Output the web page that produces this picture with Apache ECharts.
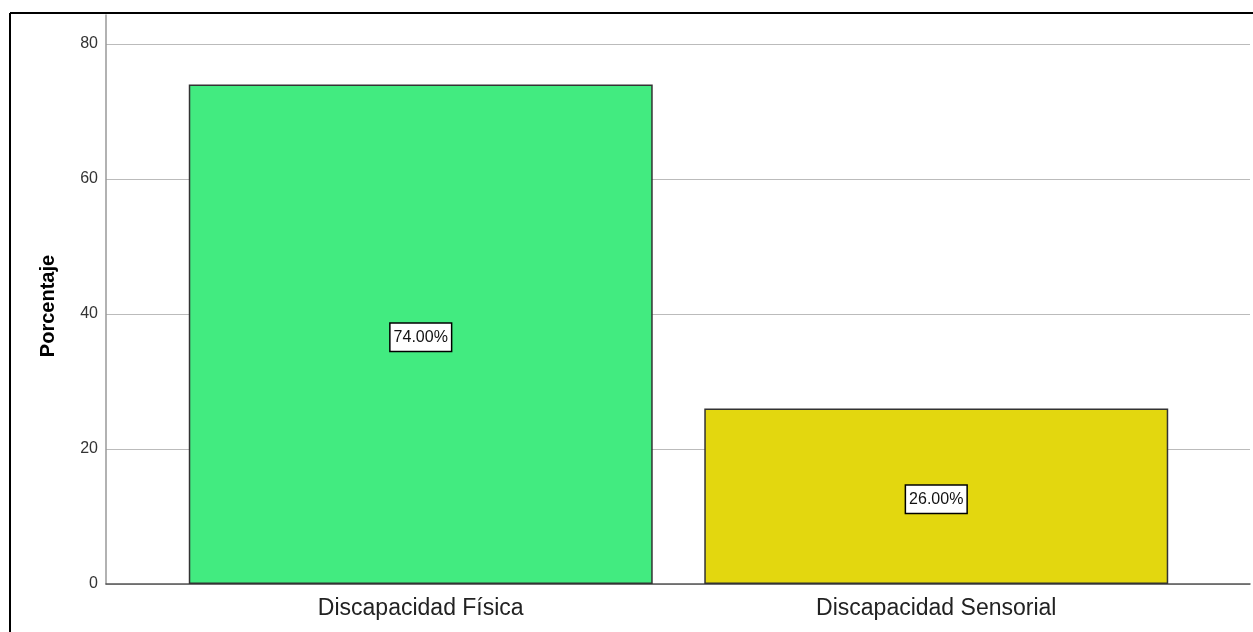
<!DOCTYPE html>
<html><head><meta charset="utf-8">
<script src="https://cdn.jsdelivr.net/npm/echarts@6/dist/echarts.min.js"></script>
<style>html,body{margin:0;padding:0;background:#fff}#c{width:1253px;height:632px}</style>
</head><body><div id="c"></div>
<script>
const categories = ['Discapacidad Física', 'Discapacidad Sensorial'];
const values = [74, 26];
const labels = ['74.00%', '26.00%'];
const colors = ['#42EB80', '#E3D70F'];
const yTicks = [0, 20, 40, 60, 80];
const yTitle = 'Porcentaje';

const chart = echarts.init(document.getElementById('c'), null, {renderer: 'canvas'});
const font = 'Liberation Sans, Arial, sans-serif';
chart.setOption({
  animation: false,
  backgroundColor: '#fff',
  grid: [
    {left: 106, right: 3, top: 44, bottom: 48},
    {left: 163, right: 59, top: 15, bottom: 48},
    {left: 106, right: 3, top: 15, bottom: 48}
  ],
  xAxis: [
    {gridIndex: 0, type: 'value', min: 0, max: 1,
     axisLine: {show: true, onZero: false, lineStyle: {color: '#555', width: 1.5}},
     axisTick: {show: false}, axisLabel: {show: false}, splitLine: {show: false}},
    {gridIndex: 1, type: 'category', data: categories,
     axisLine: {show: false}, axisTick: {show: false},
     axisLabel: {fontFamily: font, fontSize: 23, color: '#222', margin: 13}},
    {gridIndex: 2, type: 'value', show: false}
  ],
  yAxis: [
    {gridIndex: 0, type: 'value', min: yTicks[0], max: yTicks[yTicks.length - 1], interval: 20,
     axisLine: {show: false},
     axisTick: {show: false},
     axisLabel: {fontFamily: font, fontSize: 16, color: '#333', margin: 8},
     splitLine: {show: true, lineStyle: {color: '#BBBBBB', width: 1}}},
    {gridIndex: 1, type: 'value', min: 0, max: 84.3, show: false},
    {gridIndex: 2, type: 'value', min: 0, max: 84.3,
     axisLine: {show: true, lineStyle: {color: '#999', width: 1.5}},
     axisTick: {show: false}, axisLabel: {show: false}, splitLine: {show: false}}
  ],
  series: [{
    type: 'bar', xAxisIndex: 1, yAxisIndex: 1,
    barCategoryGap: '10%',
    data: values.map((v, i) => ({value: v, itemStyle: {color: colors[i]},
      label: {formatter: labels[i]}})),
    itemStyle: {borderColor: '#333', borderWidth: 1.5},
    label: {show: true, position: 'inside', offset: [0, 3], fontFamily: font, fontSize: 16, color: '#111',
      backgroundColor: '#fff', borderColor: '#000', borderWidth: 1.5, padding: [6, 3, 5, 3]}
  }],
  graphic: [
    {type: 'line', shape: {x1: 10, y1: 13, x2: 1253, y2: 13}, style: {stroke: '#000', lineWidth: 2}},
    {type: 'line', shape: {x1: 10, y1: 13, x2: 10, y2: 632}, style: {stroke: '#000', lineWidth: 2}},
    {type: 'text', x: 48, y: 306, rotation: Math.PI / 2,
     style: {text: yTitle, font: 'bold 20px ' + font, fill: '#000', align: 'center', verticalAlign: 'middle'}}
  ]
});
</script></body></html>
